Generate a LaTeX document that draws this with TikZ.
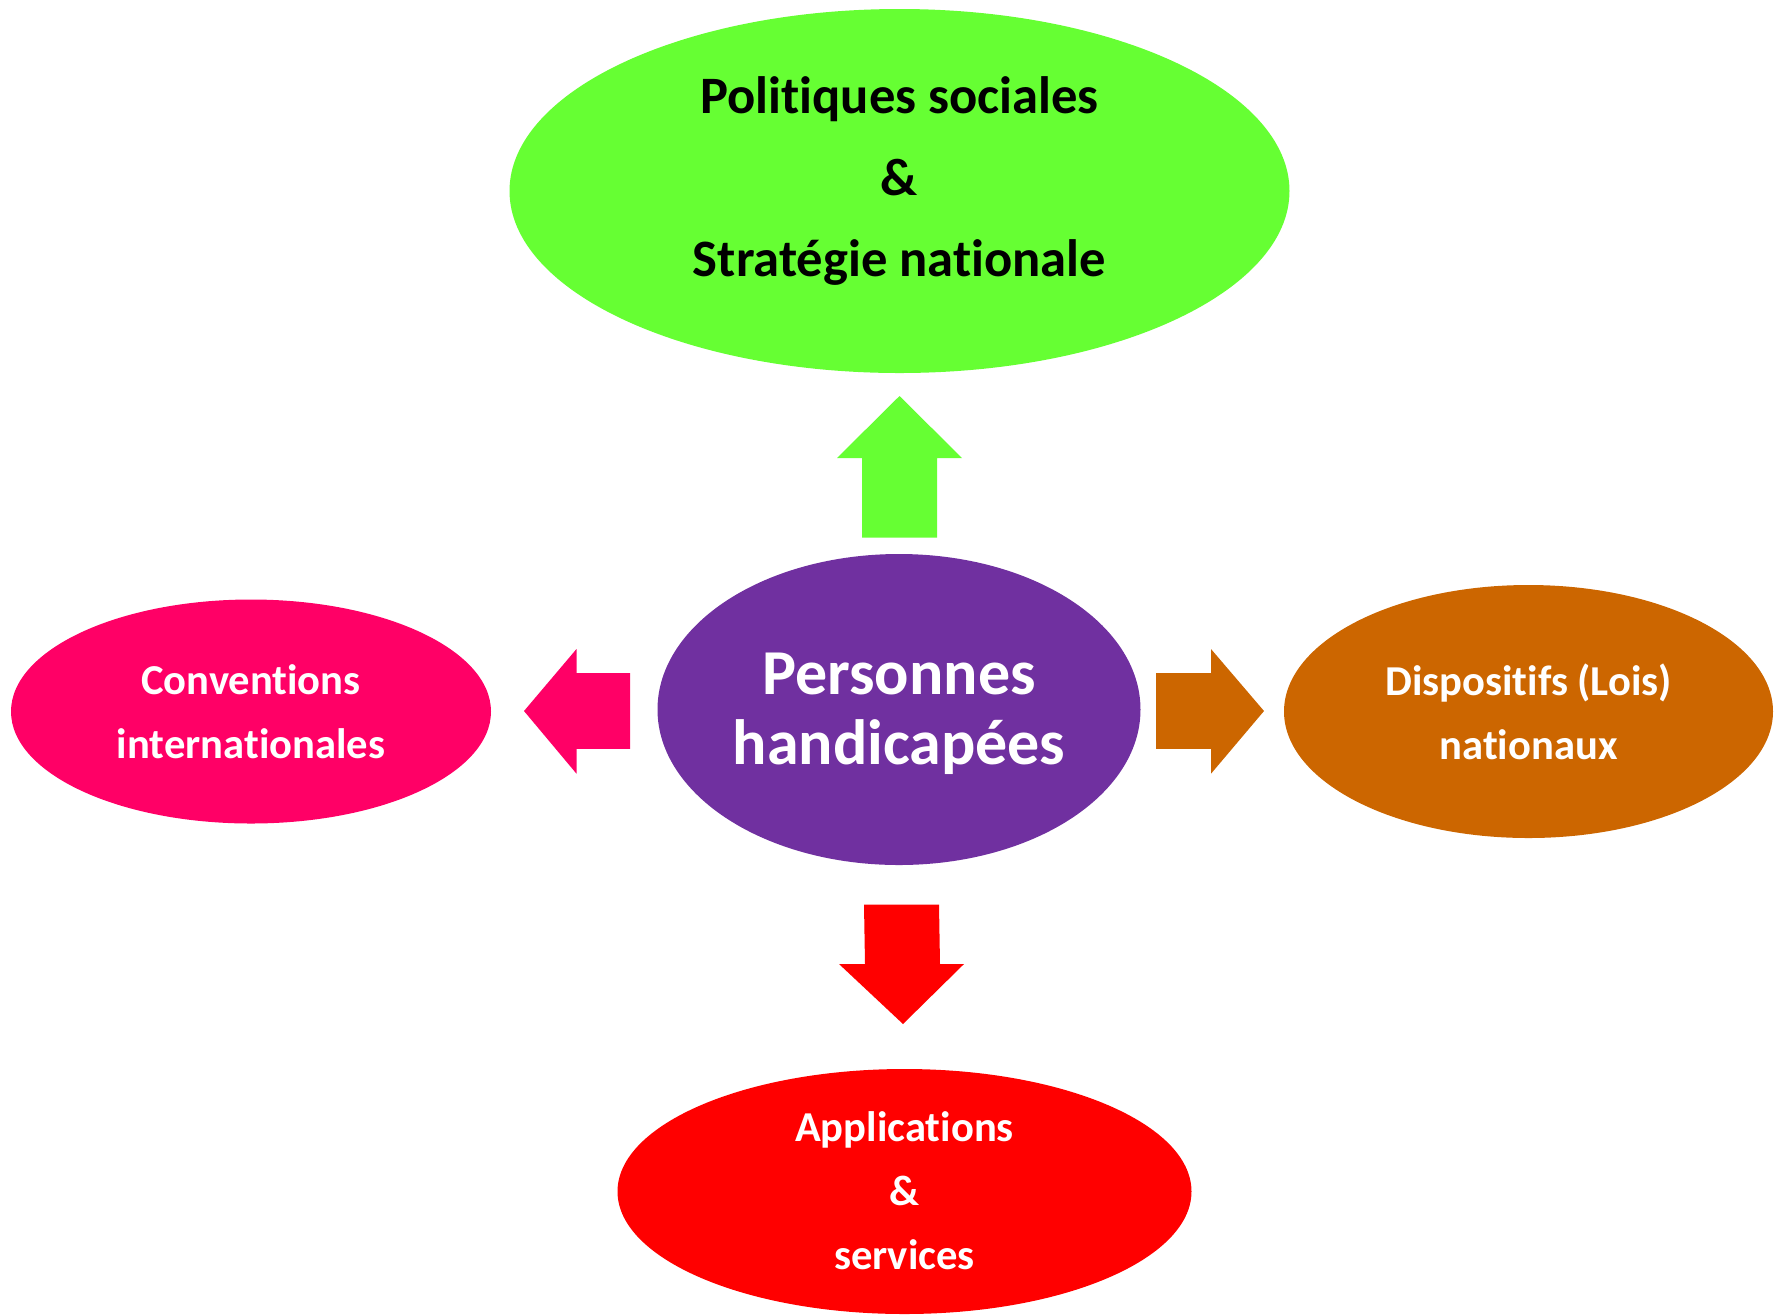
\documentclass[tikz,border=0pt]{standalone}
\usepackage{fontspec}
\setmainfont{Carlito}[Ligatures=NoCommon]
\usetikzlibrary{shapes.geometric}
\definecolor{cgreen}{HTML}{66FF33}
\definecolor{cpurple}{HTML}{7030A0}
\definecolor{cpink}{HTML}{FF0066}
\definecolor{corange}{HTML}{CC6600}
\definecolor{cred}{HTML}{FF0000}
\begin{document}
\begin{tikzpicture}[x=0.5pt,y=-0.5pt,
  blob/.style={ellipse,inner sep=0pt,draw=none},
  lbl/.style={align=center,inner sep=0pt,font=\bfseries},
]
\useasboundingbox (0,0) rectangle (1774,1314);
% ellipses
\node[blob,fill=cgreen,minimum width=390pt,minimum height=182pt] (top) at (899.5,191) {};
\node[blob,fill=cpurple,minimum width=241.5pt,minimum height=155.5pt] (mid) at (899,709.5) {};
\node[blob,fill=cpink,minimum width=240pt,minimum height=112pt] (left) at (251,711.5) {};
\node[blob,fill=corange,minimum width=244.5pt,minimum height=126.5pt] (right) at (1528.5,711.5) {};
\node[blob,fill=cred,minimum width=287pt,minimum height=122.5pt] (bot) at (904.5,1191.5) {};
% texts
\node[lbl,text=black,font=\bfseries\fontsize{26.3}{40.7}\selectfont] (toptext) at (899.5,181) {Politiques sociales\\\&\\Strat\'egie nationale};
\node[lbl,text=white,font=\bfseries\fontsize{32}{35}\selectfont] (midtext) at (899,714) {Personnes\\handicap\'ees};
\node[lbl,text=white,font=\bfseries\fontsize{21.3}{32}\selectfont] (lefttext) at (251,711.5) {Conventions\\internationales};
\node[lbl,text=white,font=\bfseries\fontsize{21.3}{32}\selectfont] (righttext) at (1528.5,711.5) {Dispositifs (Lois)\\nationaux};
\node[lbl,text=white,font=\bfseries\fontsize{21.3}{32}\selectfont] (bottext) at (904.5,1191) {Applications\\\&\\services};
% block arrows
\fill[cgreen] (862,537.5) -- (862,458) -- (837,458) -- (899.5,396) -- (962,458) -- (937,458) -- (937,537.5) -- cycle;
\fill[cpink] (630,673) -- (576.5,673) -- (576.5,649) -- (524,711) -- (576.5,773.7) -- (576.5,748.8) -- (630,748.8) -- cycle;
\fill[corange] (1156,673) -- (1211,673) -- (1211,649) -- (1264,711) -- (1211,773.7) -- (1211,748.8) -- (1156,748.8) -- cycle;
\fill[cred] (864,904.5) -- (939,904.5) -- (940,964) -- (964,964) -- (903,1024) -- (839,964) -- (865,964) -- cycle;
\end{tikzpicture}
\end{document}
